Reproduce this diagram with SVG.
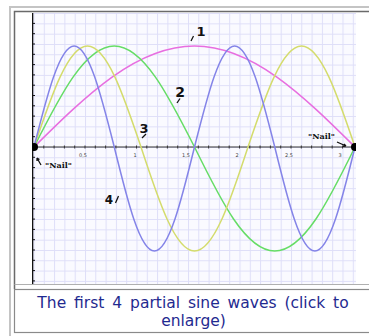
<svg xmlns="http://www.w3.org/2000/svg" width="369" height="336" viewBox="0 0 369 336">
<style>
.wave{fill:none;stroke-width:1.5;stroke-linejoin:round}
.lbl{font-family:"DejaVu Sans",sans-serif;font-weight:bold;fill:#111}
.tick{font-family:"DejaVu Sans",sans-serif;font-size:5px;fill:#444;text-anchor:middle}
.nail{font-family:"DejaVu Serif",serif;font-weight:bold;font-size:8px;fill:#111}
.mark{stroke:#111;stroke-width:1.3;fill:none}
.cap{font-family:"DejaVu Sans",sans-serif;font-size:15.5px;fill:#1f2a90;text-anchor:middle;word-spacing:3px}
</style>
<defs>
<pattern id="grid" x="33.5" y="147" width="10.3" height="10.3" patternUnits="userSpaceOnUse">
<path d="M0,0.5H10.3M0.5,0V10.3" stroke="#dedef8" stroke-width="1" fill="none"/>
</pattern>
<clipPath id="img"><rect x="32" y="13" width="324" height="271"/></clipPath>
</defs>
<rect width="369" height="336" fill="#ffffff"/>
<g id="frame">
<path d="M10,336V7H369" fill="none" stroke="#c4c4c4" stroke-width="2"/>
<path d="M14.5,289V11.5H369" fill="none" stroke="#6a6a6a" stroke-width="1.5"/>
<path d="M14.5,284.5H369" fill="none" stroke="#b0b0b0" stroke-width="1"/>
<rect x="14.5" y="289.5" width="360" height="43" fill="#ffffff" stroke="#8a8a8a" stroke-width="1.2"/>
</g>
<g id="plot" clip-path="url(#img)">
<rect x="32" y="13" width="324" height="271" fill="#fafaff"/>
<rect x="32" y="13" width="324" height="271" fill="url(#grid)"/>
<path d="M32.5,13V284" stroke="#111" stroke-width="1.6"/>
<path d="M32,147H356" stroke="#333" stroke-width="1.2"/>
<path d="M43.8,145.5v3M54.1,145.5v3M64.4,145.5v3M74.7,145.5v3M85,145.5v3M95.3,145.5v3M105.6,145.5v3M115.9,145.5v3M126.2,145.5v3M136.5,145.5v3M146.8,145.5v3M157.1,145.5v3M167.4,145.5v3M177.7,145.5v3M188,145.5v3M198.3,145.5v3M208.6,145.5v3M218.9,145.5v3M229.2,145.5v3M239.5,145.5v3M249.8,145.5v3M260.1,145.5v3M270.4,145.5v3M280.7,145.5v3M291,145.5v3M301.3,145.5v3M311.6,145.5v3M321.9,145.5v3M332.2,145.5v3M342.5,145.5v3" stroke="#333" stroke-width="1"/>
<path d="M32,23.4h3M32,33.7h3M32,44h3M32,54.3h3M32,64.6h3M32,74.9h3M32,85.2h3M32,95.5h3M32,105.8h3M32,116.1h3M32,126.4h3M32,136.7h3M32,157.3h3M32,167.6h3M32,177.9h3M32,188.2h3M32,198.5h3M32,208.8h3M32,219.1h3M32,229.4h3M32,239.7h3M32,250h3M32,260.3h3M32,270.6h3M32,280.9h3" stroke="#111" stroke-width="1"/>
<g id="ticks">
<text class="tick" x="83" y="157">0,5</text>
<text class="tick" x="135" y="157">1</text>
<text class="tick" x="186" y="157">1,5</text>
<text class="tick" x="237" y="157">2</text>
<text class="tick" x="289" y="157">2,5</text>
<text class="tick" x="340" y="157">3</text>
</g>
<g id="waves">
<path id="wave1" class="wave" stroke="#e86ee0" d="M34,147 C86.34,95.26 136.42,46 194.5,46 C252.58,46 302.66,95.26 355,147"/>
<path id="wave2" class="wave" stroke="#66dd66" d="M34,147 C60.17,95.26 85.21,46 114.25,46 C143.29,46 168.33,95.26 194.5,147 C220.67,200.28 245.71,251 274.75,251 C303.79,251 328.83,200.28 355,147"/>
<path id="wave3" class="wave" stroke="#d4dc6c" d="M34,147 C51.45,95.26 68.14,46 87.5,46 C106.86,46 123.55,95.26 141,147 C158.45,200.28 175.14,251 194.5,251 C213.86,251 230.55,200.28 248,147 C265.45,95.26 282.14,46 301.5,46 C320.86,46 337.55,95.26 355,147"/>
<path id="wave4" class="wave" stroke="#8484e8" d="M34,147 C47.08,95.26 59.6,46 74.13,46 C88.65,46 101.17,95.26 114.25,147 C127.33,200.28 139.85,251 154.38,251 C168.9,251 181.42,200.28 194.5,147 C207.58,95.26 220.1,46 234.63,46 C249.15,46 261.67,95.26 274.75,147 C287.83,200.28 300.35,251 314.88,251 C329.4,251 341.92,200.28 355,147"/>
</g>
<g id="nails">
<circle cx="34" cy="147" r="4" fill="#000"/>
<circle cx="355" cy="147" r="4" fill="#000"/>
</g>
</g>
<g id="labels">
<g id="label1"><text class="lbl" x="201" y="36" font-size="13" text-anchor="middle">1</text><path class="mark" d="M191,41L193.5,36"/></g>
<g id="label2"><text class="lbl" x="180" y="97" font-size="14" text-anchor="middle">2</text><path class="mark" d="M177,103L180,98.5"/></g>
<g id="label3"><text class="lbl" x="144" y="133" font-size="13" text-anchor="middle">3</text><path class="mark" d="M142,138L146,134"/></g>
<g id="label4"><text class="lbl" x="109" y="204" font-size="12" text-anchor="middle">4</text><path class="mark" d="M115.5,203L118.5,196"/></g>
<g id="nailL"><text class="nail" x="45" y="168">"Nail"</text><path class="mark" stroke-width="1" d="M41,165L37,158M37,158l0,3M37,158l2.5,1.5"/></g>
<g id="nailR"><text class="nail" x="308" y="139">"Nail"</text><path class="mark" stroke-width="1" d="M337,142L346,146M346,146l-3,0.3M346,146l-2,-2"/></g>
</g>
<g id="caption">
<text class="cap" x="193" y="307.5">The first 4 partial sine waves (click to</text>
<text class="cap" x="193.5" y="326">enlarge)</text>
</g>
</svg>
